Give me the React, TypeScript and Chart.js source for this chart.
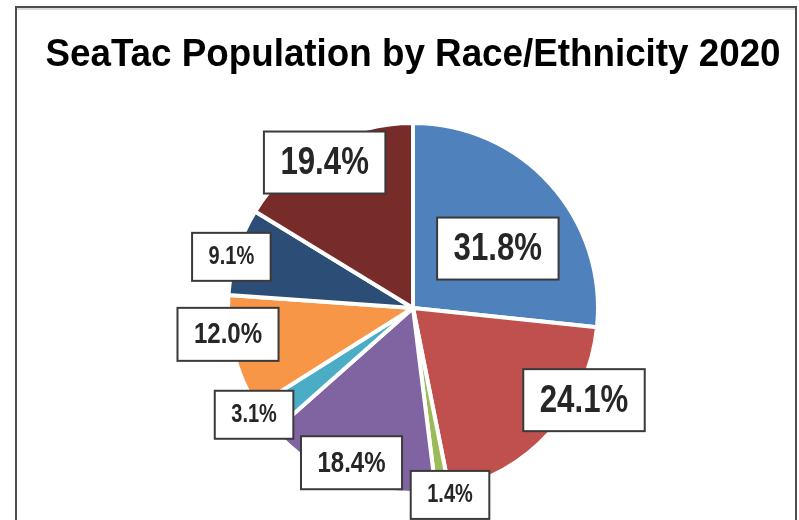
import React, { useEffect, useRef } from 'react';
import { Chart, registerables } from 'chart.js';

Chart.register(...registerables);

// ---- data ----
const categories = [
  'White',
  'Hispanic or Latino',
  'American Indian / Alaska Native',
  'Black or African American',
  'Native Hawaiian / Pacific Islander',
  'Asian',
  'Two or More Races',
  'Other',
];
const shares = [31.8, 24.1, 1.4, 18.4, 3.1, 12.0, 9.1, 19.4];
const sliceColors = ['#4F81BD', '#C0504D', '#9BBB59', '#8064A2', '#4BACC6', '#F79646', '#2C4D75', '#772C2A'];
const titleText = 'SeaTac Population by Race/Ethnicity 2020';

// label layout style (relative to each slice): distance factor of radius, angle shift (deg), font size
const labelDist = [0.56, 1.05, 1.03, 0.9, 1.035, 1.01, 1.02, 0.92];
const labelShift = [7, -14, -2, 1, 3, 6, -2, -2];
const labelSize = [39, 39, 25, 30, 25, 30, 25, 39];

const framePlugin = {
  id: 'frame',
  beforeDraw(chart: any) {
    const ctx = chart.ctx;
    ctx.save();
    ctx.fillStyle = '#ffffff';
    ctx.fillRect(0, 0, chart.width, chart.height);
    ctx.strokeStyle = '#dcdcdc';
    ctx.lineWidth = 2;
    ctx.beginPath();
    ctx.moveTo(17, 9);
    ctx.lineTo(795, 9);
    ctx.stroke();
    ctx.strokeStyle = '#4d4d4d';
    ctx.lineWidth = 2;
    ctx.beginPath();
    ctx.moveTo(16, chart.height + 5);
    ctx.lineTo(16, 7);
    ctx.lineTo(796, 7);
    ctx.lineTo(796, chart.height + 5);
    ctx.stroke();
    ctx.restore();
  },
};

const titlePlugin = {
  id: 'squeezedTitle',
  afterDraw(chart: any) {
    const ctx = chart.ctx;
    const area = chart.chartArea;
    const cx = (area.left + area.right) / 2;
    ctx.save();
    ctx.font = 'bold 39px "Liberation Sans", Arial, sans-serif';
    ctx.translate(cx, 66);
    ctx.scale(0.943, 1);
    ctx.fillStyle = '#000000';
    ctx.textAlign = 'center';
    ctx.textBaseline = 'alphabetic';
    ctx.fillText(titleText, 0, 0);
    ctx.restore();
  },
};

const boxLabelPlugin = {
  id: 'boxLabels',
  afterDatasetsDraw(chart: any) {
    const meta = chart.getDatasetMeta(0);
    const values = chart.data.datasets[0].data as number[];
    const ctx = chart.ctx;
    const squeeze = 0.8;
    const padX = 16.5;
    const padY = 11.5;
    meta.data.forEach((arc: any, i: number) => {
      const { x, y, startAngle, endAngle, outerRadius } = arc.getProps(
        ['x', 'y', 'startAngle', 'endAngle', 'outerRadius'],
        true
      );
      const mid = (startAngle + endAngle) / 2 + (labelShift[i] * Math.PI) / 180;
      const cx = x + Math.cos(mid) * labelDist[i] * outerRadius;
      const cy = y + Math.sin(mid) * labelDist[i] * outerRadius;
      const text = values[i].toFixed(1) + '%';
      const size = labelSize[i];
      ctx.save();
      ctx.font = `bold ${size}px "Liberation Sans", Arial, sans-serif`;
      const tw = ctx.measureText(text).width * squeeze;
      const w = tw + padX * 2;
      const h = size + padY * 2;
      ctx.fillStyle = '#ffffff';
      ctx.fillRect(cx - w / 2, cy - h / 2, w, h);
      ctx.strokeStyle = '#3a3a3a';
      ctx.lineWidth = 2;
      ctx.strokeRect(cx - w / 2, cy - h / 2, w, h);
      ctx.translate(cx, cy);
      ctx.scale(squeeze, 1);
      ctx.fillStyle = '#262626';
      ctx.textAlign = 'center';
      ctx.textBaseline = 'middle';
      ctx.fillText(text, 0, size * 0.02);
      ctx.restore();
    });
  },
};

export default function App() {
  const canvasRef = useRef<HTMLCanvasElement | null>(null);

  useEffect(() => {
    if (!canvasRef.current) return;
    const chart = new Chart(canvasRef.current, {
      type: 'pie',
      data: {
        labels: categories,
        datasets: [
          {
            data: shares,
            backgroundColor: sliceColors,
            borderColor: '#ffffff',
            borderWidth: 4,
            radius: 185,
          } as any,
        ],
      },
      options: {
        responsive: false,
        animation: false,
        layout: { padding: { left: 27, right: 0, top: 100, bottom: 4 } },
        plugins: {
          legend: { display: false },
          tooltip: { enabled: false },
          title: { display: false },
        },
      },
      plugins: [framePlugin, boxLabelPlugin, titlePlugin],
    });
    return () => chart.destroy();
  }, []);

  return (
    <div style={{ position: 'absolute', left: 0, top: 0, width: 799, height: 520, overflow: 'hidden' }}>
      <canvas ref={canvasRef} width={799} height={520} />
    </div>
  );
}
